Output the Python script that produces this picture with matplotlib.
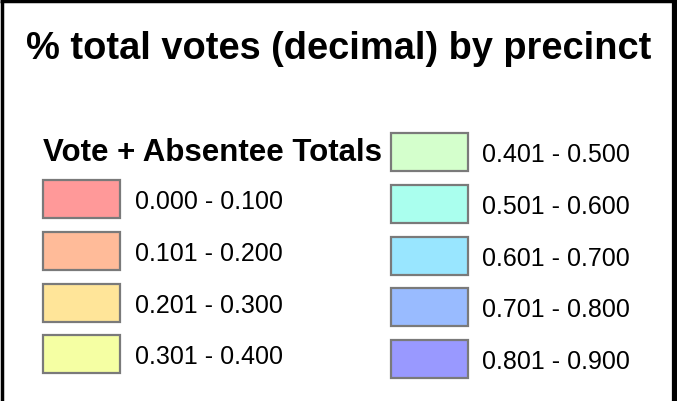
import matplotlib.pyplot as plt
from matplotlib.patches import Rectangle

plt.rcParams['font.family'] = ['Liberation Sans', 'DejaVu Sans']

title = "% total votes (decimal) by precinct"
legend_title = "Vote + Absentee Totals"
ranges = ["0.000 - 0.100", "0.101 - 0.200", "0.201 - 0.300", "0.301 - 0.400",
          "0.401 - 0.500", "0.501 - 0.600", "0.601 - 0.700", "0.701 - 0.800",
          "0.801 - 0.900"]
colors = ["#FF9999", "#FFBB99", "#FFE599", "#F5FFA3",
          "#D4FFCC", "#AAFFEE", "#99E6FF", "#99BBFF", "#9999FF"]

W, H = 677, 401
fig = plt.figure(figsize=(W / 100, H / 100), dpi=100)
ax = fig.add_axes([0, 0, 1, 1])
ax.set_xlim(0, W)
ax.set_ylim(H, 0)
ax.axis('off')

# frame (bottom edge is cut off in the original)
ax.plot([1.5, 1.5], [H + 5, 1], color='black', lw=2.5, solid_capstyle='butt')
ax.plot([0, W], [1, 1], color='black', lw=2.5, solid_capstyle='butt')
ax.plot([674.5, 674.5], [0, H + 5], color='black', lw=4.5, solid_capstyle='butt')

ax.text(W / 2, 59, title, ha='center', va='baseline', fontsize=27.4,
        fontweight='bold')
ax.text(43, 153, legend_title, ha='left', va='center', fontsize=22.5,
        fontweight='bold')

step = 51.8
box_w, box_h = 77, 38
# first four entries in the left column, rest on the right
for i, (lab, col) in enumerate(zip(ranges, colors)):
    if i < 4:
        x0, y0 = 43, 180 + step * i
        tx = 135
    else:
        x0, y0 = 391, 133 + step * (i - 4)
        tx = 482
    ax.add_patch(Rectangle((x0, y0), box_w, box_h, facecolor=col,
                           edgecolor='#7a7a7a', lw=1.6))
    ax.text(tx, y0 + box_h / 2 + 3, lab, ha='left', va='center', fontsize=18)

fig.savefig('out.png', dpi=100)
